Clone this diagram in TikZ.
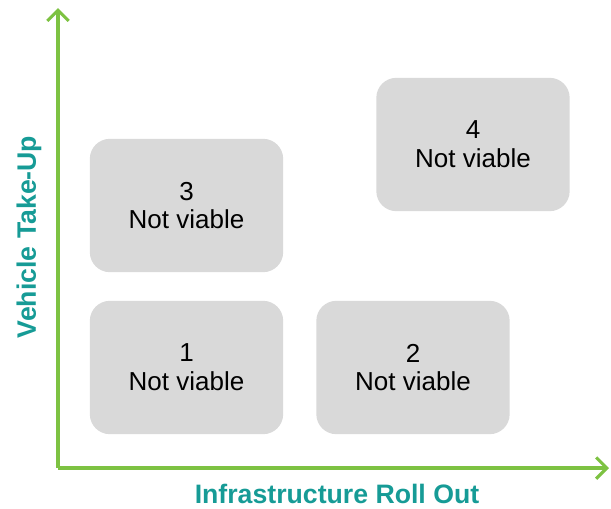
\documentclass[tikz,border=0pt]{standalone}
\usepackage{fontspec}
\setmainfont{Liberation Sans}
\usepackage{xcolor}
\usepackage{tikz}
\usetikzlibrary{arrows.meta}
\definecolor{axisgreen}{HTML}{7DC242}
\definecolor{labelteal}{HTML}{169B96}
\definecolor{boxgrey}{HTML}{D9D9D9}
\tikzset{
    tnode/.style = {align=center, inner sep=0pt, text centered},
    quad/.style = {tnode, rectangle, rounded corners=15pt, fill=boxgrey, minimum width=145pt, minimum height=100pt, font=\fontsize{19.5}{21.5}\selectfont},
    axislabel/.style = {tnode, text=labelteal, font=\fontsize{20}{24}\selectfont\bfseries},
    axisline/.style = {draw=axisgreen, line width=2.3pt, -{Straight Barb[length=8pt, width=16pt]}}
}
\begin{document}
\begin{tikzpicture}[x=0.75pt, y=-0.75pt]
                    \useasboundingbox (0,0) rectangle (611,508);
                    \coordinate (origin) at (58,468);
                    \coordinate (ytip) at (58,8);
                    \coordinate (xtip) at (609,468);
                    \draw [axisline] (origin) -- (ytip);
                    \draw [axisline] (origin) -- (xtip);
                    \node [quad] (one) at (186.5,367.5) {1\\Not viable};
                    \node [quad] (two) at (413,367.5) {2\\Not viable};
                    \node [quad] (three) at (186.5,205.5) {3\\Not viable};
                    \node [quad] (four) at (473,144.5) {4\\Not viable};
                    \node [axislabel] (xlabel) at (337,494) {Infrastructure Roll Out};
                    \node [axislabel, rotate=90] (ylabel) at (29,237) {Vehicle Take-Up};
\end{tikzpicture}
\end{document}
